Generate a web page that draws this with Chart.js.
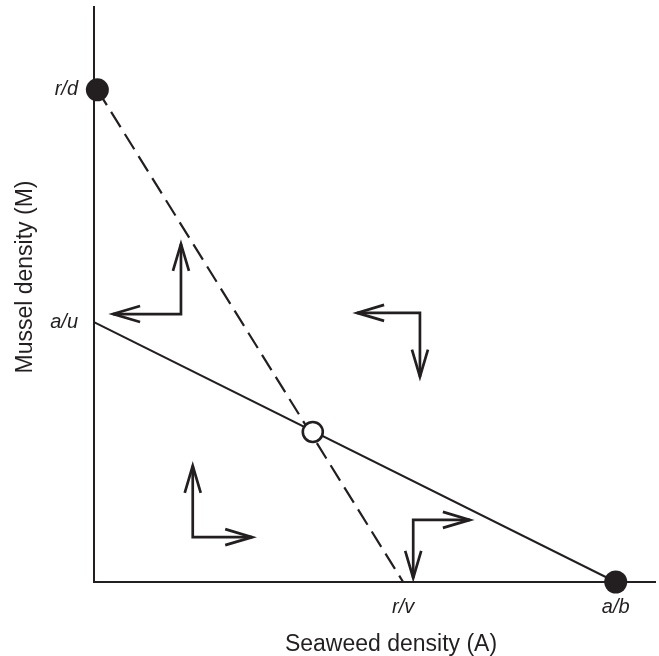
<!DOCTYPE html>
<html lang="en">
<head>
  <meta charset="UTF-8">
  <title>Seaweed / mussel phase plane</title>
  <style>
    body { margin: 0; background: #fff; }
    canvas { display: block; }
  </style>
  <script src="https://cdn.jsdelivr.net/npm/chart.js"></script>
</head>
<body>
  <canvas id="phase" width="659" height="656"></canvas>

  <script>
    // axis tick labels (intercepts)
    const xTickValues = [55.1, 93];
    const xTickLabels = ['r/v', 'a/b'];
    const yTickValues = [45.2, 85.6];
    const yTickLabels = ['a/u', 'r/d'];

    // solid isocline: a/u -> a/b
    const solidX = [0, 93];
    const solidY = [45.2, 0];
    // dashed isocline: r/d -> r/v
    const dashedX = [0.6, 55.1];
    const dashedY = [85.6, 0];

    // equilibria
    const stableX = [0.6, 93];
    const stableY = [85.6, 0];
    const unstableX = [39];
    const unstableY = [26.1];

    // direction arrows: corner, horizontal tip, vertical tip
    const arrowCornerX = [15.5, 58.1, 17.6, 56.9];
    const arrowCornerY = [46.6, 46.8, 7.8, 10.8];
    const arrowTipX = [3.4, 46.9, 28.2, 67.0];
    const arrowTipY = [58.8, 35.7, 20.2, 0.7];

    const ink = '#231f20';
    const fontFamily = '"Liberation Sans", Arial, sans-serif';

    const pts = (xs, ys) => xs.map((x, i) => ({ x: x, y: ys[i] }));

    const arrowSets = arrowCornerX.map((cx, i) => ({
      data: [
        { x: arrowTipX[i], y: arrowCornerY[i] },
        { x: cx, y: arrowCornerY[i] },
        { x: cx, y: arrowTipY[i] }
      ],
      showLine: true,
      borderColor: ink,
      borderWidth: 2.7,
      pointRadius: 0,
      clip: false
    }));

    // no extra room for end tick labels
    const noPad = (s) => {
      s.paddingTop = s.paddingBottom = s.paddingLeft = s.paddingRight = 0;
    };

    // open V arrow heads + axis titles
    const extras = {
      id: 'extras',
      afterDatasetsDraw(chart) {
        const c = chart.ctx;
        const xs = chart.scales.x, ys = chart.scales.y;
        const len = 27, half = 8;
        c.save();
        c.strokeStyle = ink;
        c.lineWidth = 2.7;
        const head = (px, py, dx, dy) => {
          const bx = px - dx * len, by = py - dy * len;
          c.beginPath();
          c.moveTo(bx - dy * half, by + dx * half);
          c.lineTo(px, py);
          c.lineTo(bx + dy * half, by - dx * half);
          c.stroke();
        };
        arrowCornerX.forEach((cx, i) => {
          const pcx = xs.getPixelForValue(cx), pcy = ys.getPixelForValue(arrowCornerY[i]);
          const phx = xs.getPixelForValue(arrowTipX[i]);
          const pvy = ys.getPixelForValue(arrowTipY[i]);
          head(phx, pcy, Math.sign(phx - pcx), 0);
          head(pcx, pvy, 0, Math.sign(pvy - pcy));
        });

        c.fillStyle = ink;
        c.font = '23px ' + fontFamily;
        c.textAlign = 'center';
        c.textBaseline = 'alphabetic';
        c.fillText('Seaweed density (A)', 391, 651);
        c.translate(32, 277);
        c.rotate(-Math.PI / 2);
        c.fillText('Mussel density (M)', 0, 0);
        c.restore();
      }
    };

    new Chart(document.getElementById('phase'), {
      type: 'scatter',
      data: {
        datasets: [
          {
            data: pts(unstableX, unstableY),
            pointRadius: 10,
            pointBorderWidth: 2.6,
            pointBackgroundColor: '#fff',
            pointBorderColor: ink,
            clip: false
          },
          {
            data: pts(stableX, stableY),
            pointRadius: 11.5,
            pointBorderWidth: 0,
            pointBackgroundColor: ink,
            clip: false
          },
          {
            data: pts(solidX, solidY),
            showLine: true,
            borderColor: ink,
            borderWidth: 2,
            pointRadius: 0,
            clip: false
          },
          {
            data: pts(dashedX, dashedY),
            showLine: true,
            borderColor: ink,
            borderWidth: 2.2,
            borderDash: [18, 8],
            pointRadius: 0,
            clip: false
          },
          ...arrowSets
        ]
      },
      options: {
        responsive: false,
        animation: false,
        layout: { autoPadding: false, padding: { top: 7, right: 4, left: 0, bottom: 0 } },
        plugins: { legend: { display: false }, tooltip: { enabled: false } },
        scales: {
          x: {
            type: 'linear',
            min: 0,
            max: 100,
            grid: { display: false, drawTicks: false },
            border: { display: true, color: ink, width: 2 },
            afterBuildTicks: (s) => { s.ticks = xTickValues.map(v => ({ value: v })); },
            afterFit: (s) => { s.height = 74; noPad(s); },
            ticks: {
              autoSkip: false,
              maxRotation: 0,
              padding: 13,
              color: ink,
              font: { family: fontFamily, size: 20, style: 'italic' },
              callback: (v) => xTickLabels[xTickValues.indexOf(v)]
            }
          },
          y: {
            type: 'linear',
            min: 0,
            max: 100,
            grid: { display: false, drawTicks: false },
            border: { display: true, color: ink, width: 2 },
            afterBuildTicks: (s) => { s.ticks = yTickValues.map(v => ({ value: v })); },
            afterFit: (s) => { s.width = 94; noPad(s); },
            ticks: {
              autoSkip: false,
              padding: 16,
              color: ink,
              font: { family: fontFamily, size: 20, style: 'italic' },
              callback: (v) => yTickLabels[yTickValues.indexOf(v)]
            }
          }
        }
      },
      plugins: [extras]
    });
  </script>
</body>
</html>
